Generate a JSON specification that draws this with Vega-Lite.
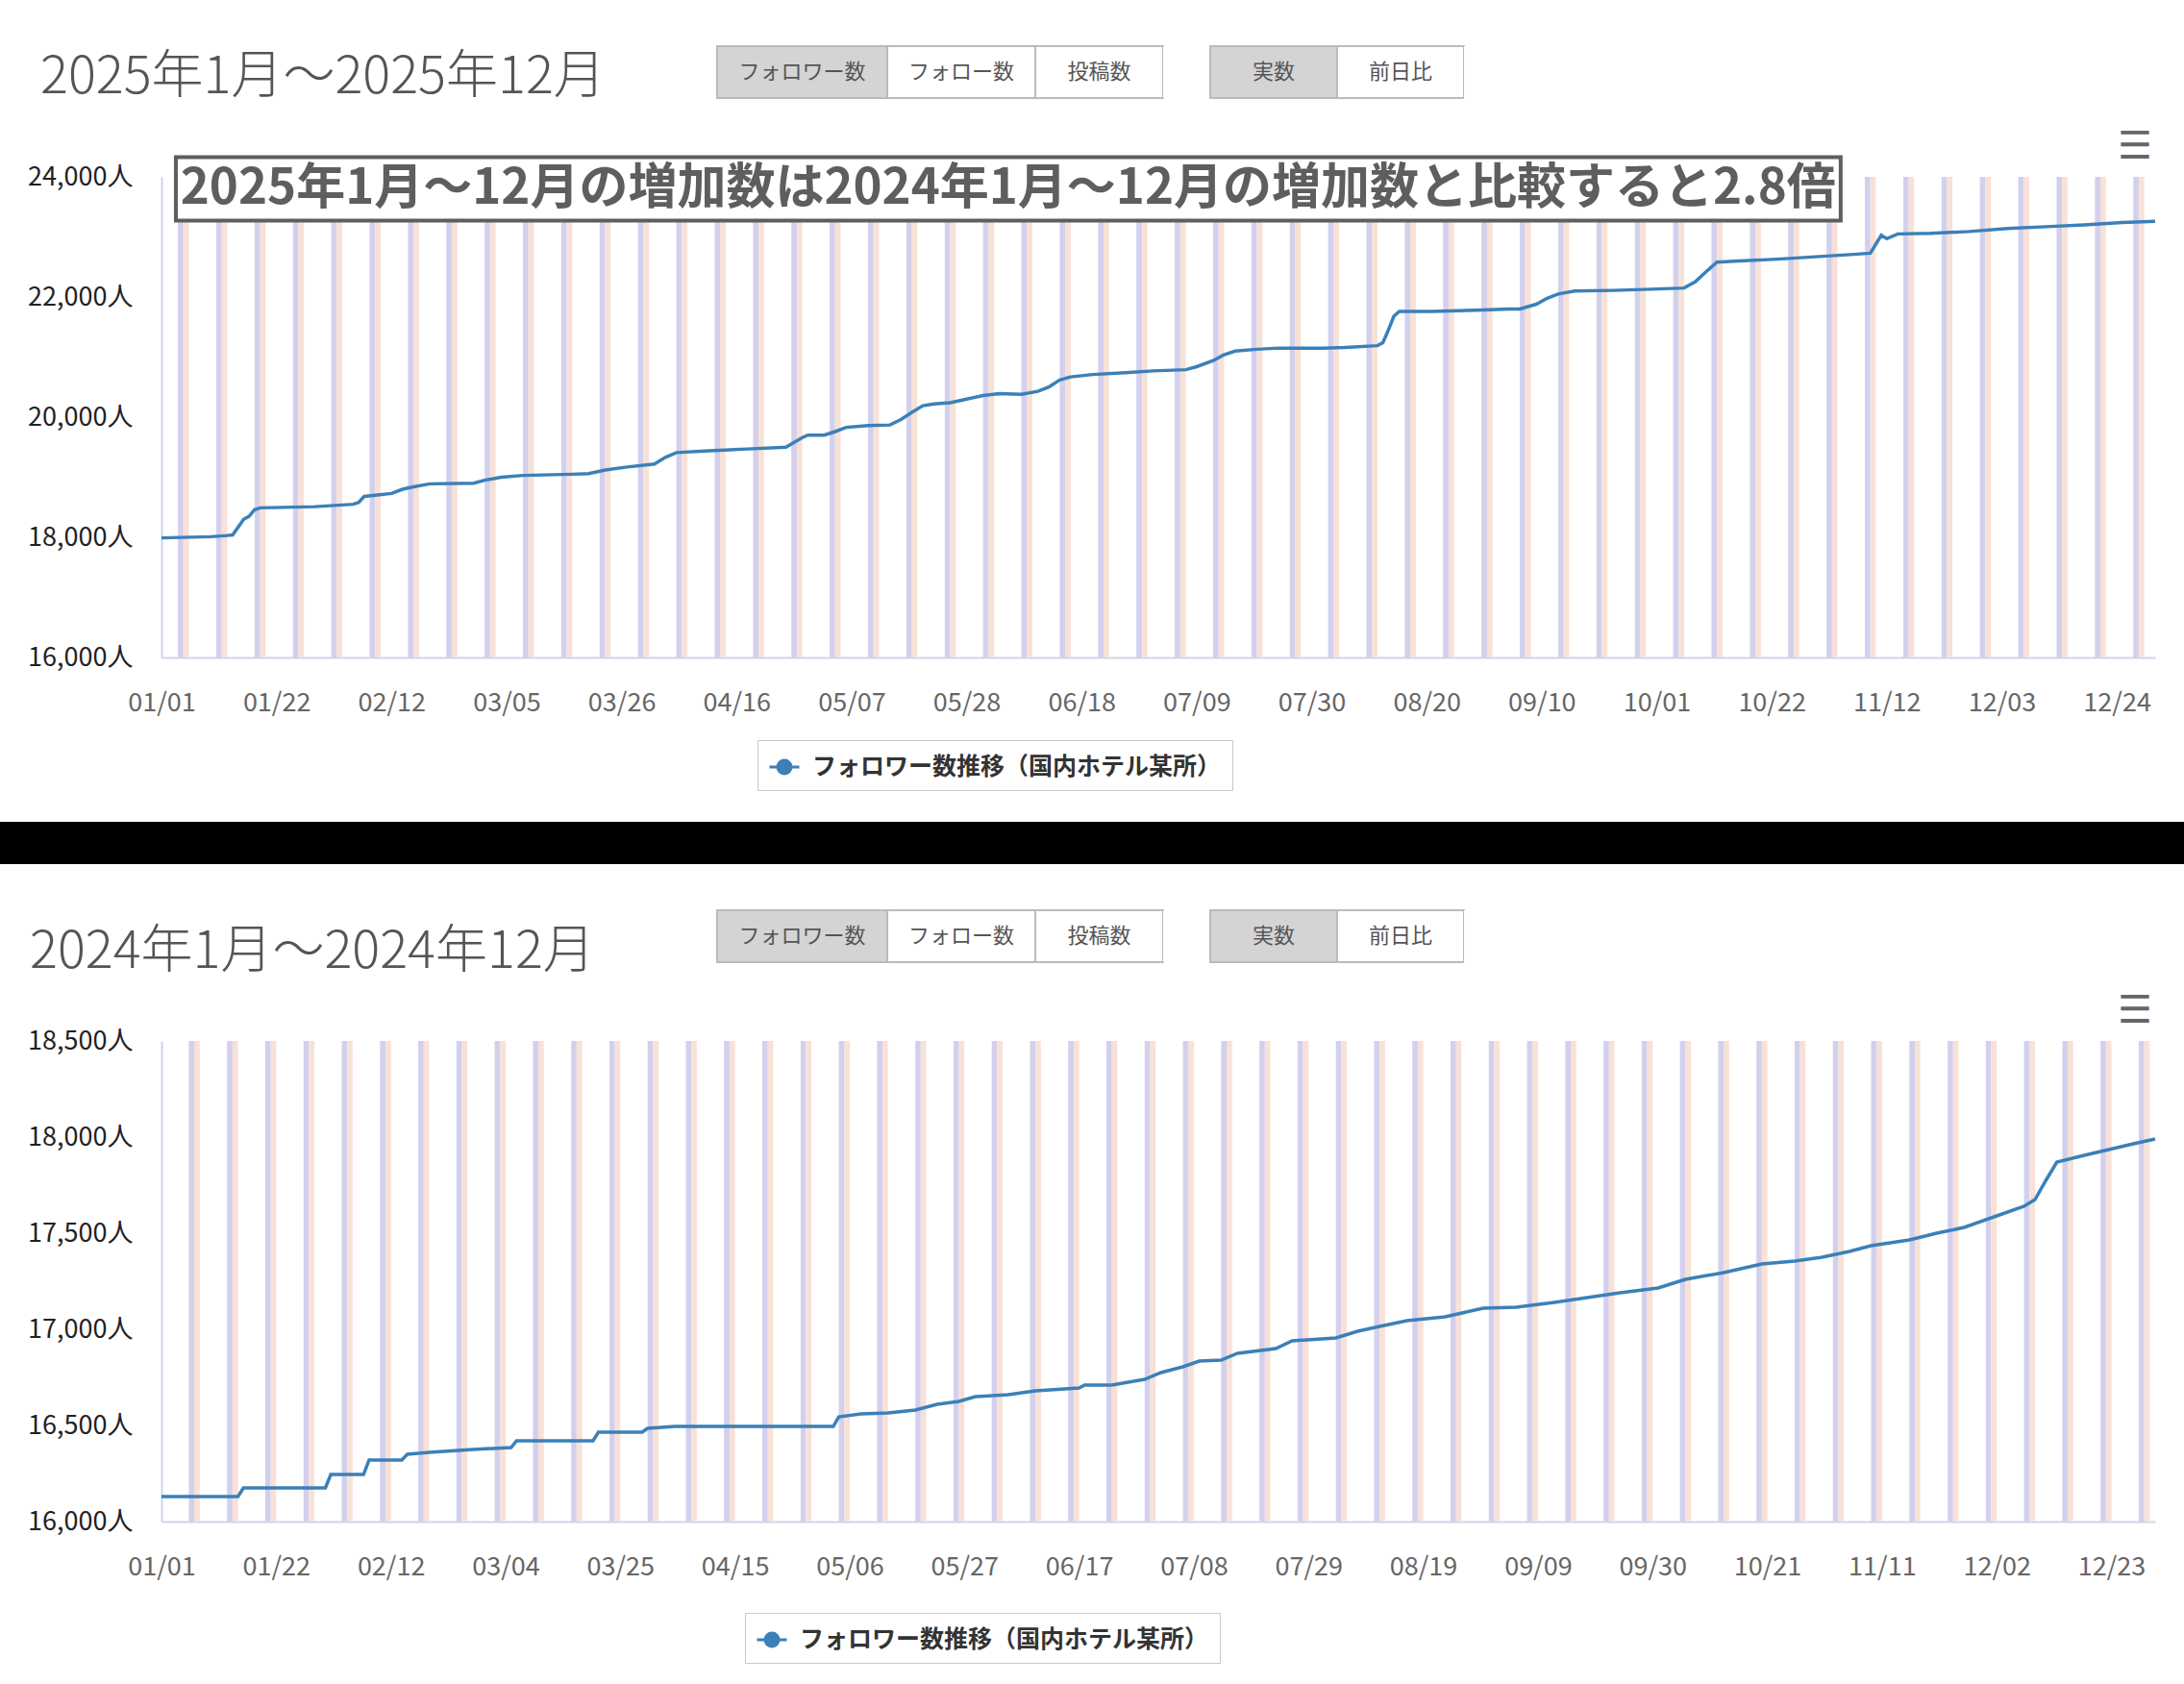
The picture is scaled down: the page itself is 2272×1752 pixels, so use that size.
{
  "$schema": "https://vega.github.io/schema/vega-lite/v6.json",
  "background": "white",
  "padding": {"left": 0, "top": 47, "right": 0, "bottom": 0},
  "spacing": 0,
  "resolve": {"scale": {"color": "independent"}},
  "config": {
    "font": "Noto Sans CJK JP",
    "view": {"stroke": null},
    "axisY": {"labelFontSize": 27, "labelColor": "#222", "labelPadding": 30, "ticks": false, "tickSize": 0, "gridColor": "#e6e6e6", "gridWidth": 1.5, "domainColor": "#ccd6eb", "domainWidth": 2},
    "axisX": {"labelFontSize": 27, "labelColor": "#666", "labelPadding": 34, "ticks": false, "tickSize": 0, "grid": false, "domainColor": "#ccd6eb", "domainWidth": 2, "labelFlush": false, "labelOverlap": false, "format": "%m/%d"},
    "legend": {"orient": "none", "title": null, "strokeColor": "#c8c8c8", "fillColor": "white", "padding": 11, "labelFontSize": 25, "labelFontWeight": "bold", "labelColor": "#333", "labelOffset": 12, "labelLimit": 1000, "symbolSize": 961, "symbolStrokeWidth": 3, "symbolType": "M-1,0L1,0M-0.45,0a0.45,0.45 0 1,0 0.9,0a0.45,0.45 0 1,0 -0.9,0"}
  },
  "datasets": {
    "s25": [
      {"d":"2025/01/01","v":17990},{"d":"2025/01/10","v":18010},{"d":"2025/01/13","v":18030},{"d":"2025/01/14","v":18040},
      {"d":"2025/01/16","v":18300},{"d":"2025/01/17","v":18350},{"d":"2025/01/18","v":18460},{"d":"2025/01/19","v":18490},
      {"d":"2025/01/29","v":18510},{"d":"2025/02/05","v":18550},{"d":"2025/02/06","v":18580},{"d":"2025/02/07","v":18680},
      {"d":"2025/02/09","v":18700},{"d":"2025/02/12","v":18730},{"d":"2025/02/14","v":18800},{"d":"2025/02/16","v":18840},
      {"d":"2025/02/19","v":18890},{"d":"2025/02/27","v":18900},{"d":"2025/03/01","v":18950},{"d":"2025/03/04","v":19000},
      {"d":"2025/03/08","v":19030},{"d":"2025/03/17","v":19050},{"d":"2025/03/20","v":19060},{"d":"2025/03/23","v":19120},
      {"d":"2025/03/27","v":19170},{"d":"2025/04/01","v":19220},{"d":"2025/04/03","v":19330},{"d":"2025/04/05","v":19410},
      {"d":"2025/04/11","v":19440},{"d":"2025/04/18","v":19470},{"d":"2025/04/25","v":19500},{"d":"2025/04/28","v":19660},
      {"d":"2025/04/29","v":19700},{"d":"2025/05/02","v":19700},{"d":"2025/05/04","v":19760},{"d":"2025/05/06","v":19830},
      {"d":"2025/05/10","v":19860},{"d":"2025/05/14","v":19870},{"d":"2025/05/16","v":19960},{"d":"2025/05/18","v":20080},
      {"d":"2025/05/20","v":20190},{"d":"2025/05/22","v":20220},{"d":"2025/05/25","v":20240},{"d":"2025/05/28","v":20300},
      {"d":"2025/05/31","v":20360},{"d":"2025/06/03","v":20390},{"d":"2025/06/07","v":20380},{"d":"2025/06/10","v":20430},
      {"d":"2025/06/12","v":20500},{"d":"2025/06/14","v":20620},{"d":"2025/06/16","v":20670},{"d":"2025/06/20","v":20710},
      {"d":"2025/06/26","v":20740},{"d":"2025/07/01","v":20770},{"d":"2025/07/07","v":20790},{"d":"2025/07/09","v":20840},
      {"d":"2025/07/12","v":20940},{"d":"2025/07/14","v":21040},{"d":"2025/07/16","v":21100},{"d":"2025/07/20","v":21130},
      {"d":"2025/07/24","v":21150},{"d":"2025/08/01","v":21150},{"d":"2025/08/05","v":21160},{"d":"2025/08/11","v":21190},
      {"d":"2025/08/12","v":21240},{"d":"2025/08/13","v":21450},{"d":"2025/08/14","v":21680},{"d":"2025/08/15","v":21760},
      {"d":"2025/08/21","v":21760},{"d":"2025/08/29","v":21780},{"d":"2025/09/04","v":21800},{"d":"2025/09/06","v":21800},
      {"d":"2025/09/09","v":21880},{"d":"2025/09/11","v":21980},{"d":"2025/09/13","v":22050},{"d":"2025/09/16","v":22100},
      {"d":"2025/09/23","v":22110},{"d":"2025/09/30","v":22130},{"d":"2025/10/06","v":22150},{"d":"2025/10/08","v":22250},
      {"d":"2025/10/10","v":22420},{"d":"2025/10/12","v":22580},{"d":"2025/10/16","v":22600},{"d":"2025/10/23","v":22630},
      {"d":"2025/10/30","v":22670},{"d":"2025/11/06","v":22710},{"d":"2025/11/09","v":22730},{"d":"2025/11/10","v":22880},
      {"d":"2025/11/11","v":23030},{"d":"2025/11/12","v":22970},{"d":"2025/11/14","v":23050},{"d":"2025/11/20","v":23060},
      {"d":"2025/11/27","v":23090},{"d":"2025/12/04","v":23140},{"d":"2025/12/11","v":23170},{"d":"2025/12/18","v":23200},
      {"d":"2025/12/25","v":23240},{"d":"2025/12/31","v":23260}
    ],
    "s24": [
      {"d":"2024/01/01","v":16130},{"d":"2024/01/15","v":16130},{"d":"2024/01/16","v":16175},{"d":"2024/01/31","v":16175},
      {"d":"2024/02/01","v":16245},{"d":"2024/02/07","v":16245},{"d":"2024/02/08","v":16320},{"d":"2024/02/14","v":16320},
      {"d":"2024/02/15","v":16350},{"d":"2024/02/19","v":16360},{"d":"2024/02/27","v":16375},{"d":"2024/03/05","v":16385},
      {"d":"2024/03/06","v":16420},{"d":"2024/03/20","v":16420},{"d":"2024/03/21","v":16465},{"d":"2024/03/29","v":16465},
      {"d":"2024/03/30","v":16485},{"d":"2024/04/04","v":16495},{"d":"2024/05/03","v":16495},{"d":"2024/05/04","v":16545},
      {"d":"2024/05/08","v":16560},{"d":"2024/05/13","v":16565},{"d":"2024/05/18","v":16580},{"d":"2024/05/22","v":16610},
      {"d":"2024/05/26","v":16625},{"d":"2024/05/29","v":16650},{"d":"2024/06/04","v":16660},{"d":"2024/06/09","v":16680},
      {"d":"2024/06/17","v":16695},{"d":"2024/06/18","v":16710},{"d":"2024/06/23","v":16710},{"d":"2024/06/29","v":16740},
      {"d":"2024/07/02","v":16775},{"d":"2024/07/06","v":16805},{"d":"2024/07/09","v":16835},{"d":"2024/07/13","v":16840},
      {"d":"2024/07/16","v":16875},{"d":"2024/07/23","v":16900},{"d":"2024/07/26","v":16940},{"d":"2024/08/03","v":16955},
      {"d":"2024/08/07","v":16990},{"d":"2024/08/11","v":17015},{"d":"2024/08/16","v":17045},{"d":"2024/08/23","v":17065},
      {"d":"2024/08/30","v":17110},{"d":"2024/09/05","v":17115},{"d":"2024/09/12","v":17140},{"d":"2024/09/18","v":17165},
      {"d":"2024/09/24","v":17190},{"d":"2024/10/01","v":17215},{"d":"2024/10/06","v":17260},{"d":"2024/10/13","v":17295},
      {"d":"2024/10/20","v":17340},{"d":"2024/10/26","v":17355},{"d":"2024/10/31","v":17375},{"d":"2024/11/05","v":17405},
      {"d":"2024/11/09","v":17435},{"d":"2024/11/16","v":17465},{"d":"2024/11/21","v":17500},{"d":"2024/11/26","v":17530},
      {"d":"2024/12/01","v":17580},{"d":"2024/12/07","v":17640},{"d":"2024/12/09","v":17675},{"d":"2024/12/11","v":17775},
      {"d":"2024/12/13","v":17870},{"d":"2024/12/18","v":17905},{"d":"2024/12/21","v":17925},{"d":"2024/12/27","v":17965},
      {"d":"2024/12/31","v":17990}
    ],
    "w25": [
      {"s":"2025/01/04","u":"2025/01/05","m":"2025/01/06"},{"s":"2025/01/11","u":"2025/01/12","m":"2025/01/13"},
      {"s":"2025/01/18","u":"2025/01/19","m":"2025/01/20"},{"s":"2025/01/25","u":"2025/01/26","m":"2025/01/27"},
      {"s":"2025/02/01","u":"2025/02/02","m":"2025/02/03"},{"s":"2025/02/08","u":"2025/02/09","m":"2025/02/10"},
      {"s":"2025/02/15","u":"2025/02/16","m":"2025/02/17"},{"s":"2025/02/22","u":"2025/02/23","m":"2025/02/24"},
      {"s":"2025/03/01","u":"2025/03/02","m":"2025/03/03"},{"s":"2025/03/08","u":"2025/03/09","m":"2025/03/10"},
      {"s":"2025/03/15","u":"2025/03/16","m":"2025/03/17"},{"s":"2025/03/22","u":"2025/03/23","m":"2025/03/24"},
      {"s":"2025/03/29","u":"2025/03/30","m":"2025/03/31"},{"s":"2025/04/05","u":"2025/04/06","m":"2025/04/07"},
      {"s":"2025/04/12","u":"2025/04/13","m":"2025/04/14"},{"s":"2025/04/19","u":"2025/04/20","m":"2025/04/21"},
      {"s":"2025/04/26","u":"2025/04/27","m":"2025/04/28"},{"s":"2025/05/03","u":"2025/05/04","m":"2025/05/05"},
      {"s":"2025/05/10","u":"2025/05/11","m":"2025/05/12"},{"s":"2025/05/17","u":"2025/05/18","m":"2025/05/19"},
      {"s":"2025/05/24","u":"2025/05/25","m":"2025/05/26"},{"s":"2025/05/31","u":"2025/06/01","m":"2025/06/02"},
      {"s":"2025/06/07","u":"2025/06/08","m":"2025/06/09"},{"s":"2025/06/14","u":"2025/06/15","m":"2025/06/16"},
      {"s":"2025/06/21","u":"2025/06/22","m":"2025/06/23"},{"s":"2025/06/28","u":"2025/06/29","m":"2025/06/30"},
      {"s":"2025/07/05","u":"2025/07/06","m":"2025/07/07"},{"s":"2025/07/12","u":"2025/07/13","m":"2025/07/14"},
      {"s":"2025/07/19","u":"2025/07/20","m":"2025/07/21"},{"s":"2025/07/26","u":"2025/07/27","m":"2025/07/28"},
      {"s":"2025/08/02","u":"2025/08/03","m":"2025/08/04"},{"s":"2025/08/09","u":"2025/08/10","m":"2025/08/11"},
      {"s":"2025/08/16","u":"2025/08/17","m":"2025/08/18"},{"s":"2025/08/23","u":"2025/08/24","m":"2025/08/25"},
      {"s":"2025/08/30","u":"2025/08/31","m":"2025/09/01"},{"s":"2025/09/06","u":"2025/09/07","m":"2025/09/08"},
      {"s":"2025/09/13","u":"2025/09/14","m":"2025/09/15"},{"s":"2025/09/20","u":"2025/09/21","m":"2025/09/22"},
      {"s":"2025/09/27","u":"2025/09/28","m":"2025/09/29"},{"s":"2025/10/04","u":"2025/10/05","m":"2025/10/06"},
      {"s":"2025/10/11","u":"2025/10/12","m":"2025/10/13"},{"s":"2025/10/18","u":"2025/10/19","m":"2025/10/20"},
      {"s":"2025/10/25","u":"2025/10/26","m":"2025/10/27"},{"s":"2025/11/01","u":"2025/11/02","m":"2025/11/03"},
      {"s":"2025/11/08","u":"2025/11/09","m":"2025/11/10"},{"s":"2025/11/15","u":"2025/11/16","m":"2025/11/17"},
      {"s":"2025/11/22","u":"2025/11/23","m":"2025/11/24"},{"s":"2025/11/29","u":"2025/11/30","m":"2025/12/01"},
      {"s":"2025/12/06","u":"2025/12/07","m":"2025/12/08"},{"s":"2025/12/13","u":"2025/12/14","m":"2025/12/15"},
      {"s":"2025/12/20","u":"2025/12/21","m":"2025/12/22"},{"s":"2025/12/27","u":"2025/12/28","m":"2025/12/29"}
    ],
    "w24": [
      {"s":"2024/01/06","u":"2024/01/07","m":"2024/01/08"},{"s":"2024/01/13","u":"2024/01/14","m":"2024/01/15"},
      {"s":"2024/01/20","u":"2024/01/21","m":"2024/01/22"},{"s":"2024/01/27","u":"2024/01/28","m":"2024/01/29"},
      {"s":"2024/02/03","u":"2024/02/04","m":"2024/02/05"},{"s":"2024/02/10","u":"2024/02/11","m":"2024/02/12"},
      {"s":"2024/02/17","u":"2024/02/18","m":"2024/02/19"},{"s":"2024/02/24","u":"2024/02/25","m":"2024/02/26"},
      {"s":"2024/03/02","u":"2024/03/03","m":"2024/03/04"},{"s":"2024/03/09","u":"2024/03/10","m":"2024/03/11"},
      {"s":"2024/03/16","u":"2024/03/17","m":"2024/03/18"},{"s":"2024/03/23","u":"2024/03/24","m":"2024/03/25"},
      {"s":"2024/03/30","u":"2024/03/31","m":"2024/04/01"},{"s":"2024/04/06","u":"2024/04/07","m":"2024/04/08"},
      {"s":"2024/04/13","u":"2024/04/14","m":"2024/04/15"},{"s":"2024/04/20","u":"2024/04/21","m":"2024/04/22"},
      {"s":"2024/04/27","u":"2024/04/28","m":"2024/04/29"},{"s":"2024/05/04","u":"2024/05/05","m":"2024/05/06"},
      {"s":"2024/05/11","u":"2024/05/12","m":"2024/05/13"},{"s":"2024/05/18","u":"2024/05/19","m":"2024/05/20"},
      {"s":"2024/05/25","u":"2024/05/26","m":"2024/05/27"},{"s":"2024/06/01","u":"2024/06/02","m":"2024/06/03"},
      {"s":"2024/06/08","u":"2024/06/09","m":"2024/06/10"},{"s":"2024/06/15","u":"2024/06/16","m":"2024/06/17"},
      {"s":"2024/06/22","u":"2024/06/23","m":"2024/06/24"},{"s":"2024/06/29","u":"2024/06/30","m":"2024/07/01"},
      {"s":"2024/07/06","u":"2024/07/07","m":"2024/07/08"},{"s":"2024/07/13","u":"2024/07/14","m":"2024/07/15"},
      {"s":"2024/07/20","u":"2024/07/21","m":"2024/07/22"},{"s":"2024/07/27","u":"2024/07/28","m":"2024/07/29"},
      {"s":"2024/08/03","u":"2024/08/04","m":"2024/08/05"},{"s":"2024/08/10","u":"2024/08/11","m":"2024/08/12"},
      {"s":"2024/08/17","u":"2024/08/18","m":"2024/08/19"},{"s":"2024/08/24","u":"2024/08/25","m":"2024/08/26"},
      {"s":"2024/08/31","u":"2024/09/01","m":"2024/09/02"},{"s":"2024/09/07","u":"2024/09/08","m":"2024/09/09"},
      {"s":"2024/09/14","u":"2024/09/15","m":"2024/09/16"},{"s":"2024/09/21","u":"2024/09/22","m":"2024/09/23"},
      {"s":"2024/09/28","u":"2024/09/29","m":"2024/09/30"},{"s":"2024/10/05","u":"2024/10/06","m":"2024/10/07"},
      {"s":"2024/10/12","u":"2024/10/13","m":"2024/10/14"},{"s":"2024/10/19","u":"2024/10/20","m":"2024/10/21"},
      {"s":"2024/10/26","u":"2024/10/27","m":"2024/10/28"},{"s":"2024/11/02","u":"2024/11/03","m":"2024/11/04"},
      {"s":"2024/11/09","u":"2024/11/10","m":"2024/11/11"},{"s":"2024/11/16","u":"2024/11/17","m":"2024/11/18"},
      {"s":"2024/11/23","u":"2024/11/24","m":"2024/11/25"},{"s":"2024/11/30","u":"2024/12/01","m":"2024/12/02"},
      {"s":"2024/12/07","u":"2024/12/08","m":"2024/12/09"},{"s":"2024/12/14","u":"2024/12/15","m":"2024/12/16"},
      {"s":"2024/12/21","u":"2024/12/22","m":"2024/12/23"},{"s":"2024/12/28","u":"2024/12/29","m":"2024/12/30"}
    ]
  },
  "vconcat": [
    {
      "hconcat": [
        {"width": 746, "height": 54, "data": {"values": [{"t": "2025年1月～2025年12月"}]},
         "mark": {"type": "text", "align": "left", "baseline": "middle", "fontSize": 54, "fontWeight": 300, "color": "#555", "dx": 42, "dy": 6},
         "encoding": {"x": {"field": "t", "type": "nominal", "axis": null, "scale": {"type": "point", "padding": 0, "align": 0}}, "text": {"field": "t"}}},
        {"width": 177, "height": 54, "view": {"fill": "#d4d4d4", "stroke": "#bbbbbb", "strokeWidth": 2}, "data": {"values": [{"b": "フォロワー数"}]},
         "mark": {"type": "text", "fontSize": 22, "color": "#555"}, "encoding": {"text": {"field": "b"}}},
        {"width": 154, "height": 54, "view": {"fill": "white", "stroke": "#bbbbbb", "strokeWidth": 2}, "data": {"values": [{"b": "フォロー数"}]},
         "mark": {"type": "text", "fontSize": 22, "color": "#555"}, "encoding": {"text": {"field": "b"}}},
        {"width": 133, "height": 54, "view": {"fill": "white", "stroke": "#bbbbbb", "strokeWidth": 2}, "data": {"values": [{"b": "投稿数"}]},
         "mark": {"type": "text", "fontSize": 22, "color": "#555"}, "encoding": {"text": {"field": "b"}}},
        {"width": 49, "height": 54, "view": {"fill": "white"}, "data": {"values": []}, "mark": "text"},
        {"width": 132, "height": 54, "view": {"fill": "#d4d4d4", "stroke": "#bbbbbb", "strokeWidth": 2}, "data": {"values": [{"b": "実数"}]},
         "mark": {"type": "text", "fontSize": 22, "color": "#555"}, "encoding": {"text": {"field": "b"}}},
        {"width": 132, "height": 54, "view": {"fill": "white", "stroke": "#bbbbbb", "strokeWidth": 2}, "data": {"values": [{"b": "前日比"}]},
         "mark": {"type": "text", "fontSize": 22, "color": "#555"}, "encoding": {"text": {"field": "b"}}},
        {"width": 749, "height": 84, "view": {"fill": "white"}, "data": {"values": []}, "mark": "text"}
      ],
      "bounds": "flush",
      "spacing": 0
    },
    {
      "resolve": {"scale": {"color": "independent"}},
      "bounds": "flush",
      "spacing": 0,
      "hconcat": [
        {"width": 168, "height": 670.5, "view": {"fill": "white"}, "data": {"values": []}, "mark": "text"},
        {
          "width": 2074,
          "height": 500,
          "layer": [
            {"data": {"name": "w25"}, "mark": {"type": "rect", "color": "#d3d0ee"},
             "encoding": {
               "x": {"field": "s", "type": "temporal", "title": null,
                     "scale": {"domain": [{"year": 2025, "month": 1, "date": 1}, {"year": 2025, "month": 12, "date": 31}]},
                     "axis": {"values": [
                       {"year": 2025, "month": 1, "date": 1}, {"year": 2025, "month": 1, "date": 22}, {"year": 2025, "month": 2, "date": 12},
                       {"year": 2025, "month": 3, "date": 5}, {"year": 2025, "month": 3, "date": 26}, {"year": 2025, "month": 4, "date": 16},
                       {"year": 2025, "month": 5, "date": 7}, {"year": 2025, "month": 5, "date": 28}, {"year": 2025, "month": 6, "date": 18},
                       {"year": 2025, "month": 7, "date": 9}, {"year": 2025, "month": 7, "date": 30}, {"year": 2025, "month": 8, "date": 20},
                       {"year": 2025, "month": 9, "date": 10}, {"year": 2025, "month": 10, "date": 1}, {"year": 2025, "month": 10, "date": 22},
                       {"year": 2025, "month": 11, "date": 12}, {"year": 2025, "month": 12, "date": 3}, {"year": 2025, "month": 12, "date": 24}]}},
               "x2": {"field": "u"},
               "y": {"datum": 24000, "type": "quantitative", "title": null,
                     "scale": {"domain": [16000, 24000], "nice": false, "zero": false},
                     "axis": {"values": [16000, 18000, 20000, 22000, 24000], "format": ",d", "labelExpr": "datum.label + '人'"}},
               "y2": {"datum": 16000}}},
            {"data": {"name": "w25"}, "mark": {"type": "rect", "color": "#f8e1d6"},
             "encoding": {
               "x": {"field": "u", "type": "temporal", "title": null},
               "x2": {"field": "m"},
               "y": {"datum": 24000, "type": "quantitative", "title": null},
               "y2": {"datum": 16000}}},
            {"data": {"name": "s25"}, "mark": {"type": "line", "strokeWidth": 3.5},
             "encoding": {
               "x": {"field": "d", "type": "temporal", "title": null},
               "y": {"field": "v", "type": "quantitative", "title": null},
               "color": {"datum": "フォロワー数推移（国内ホテル某所）", "scale": {"range": ["#3b80b8"]},
                         "legend": {"legendX": 620, "legendY": 586, "encode": {"symbols": {"update": {"fill": {"value": "#3b80b8"}, "stroke": {"value": "#3b80b8"}}}}}}}},
            {"data": {"values": [{"note": "2025年1月～12月の増加数は2024年1月～12月の増加数と比較すると2.8倍"}]},
             "mark": {"type": "rect", "fill": "white", "stroke": "#5e5e5e", "strokeWidth": 4},
             "encoding": {
               "x": {"datum": {"year": 2025, "month": 1, "date": 3, "hours": 15}, "type": "temporal", "title": null},
               "x2": {"datum": {"year": 2025, "month": 11, "date": 3, "hours": 14}},
               "y": {"datum": 24328, "type": "quantitative", "title": null},
               "y2": {"datum": 23272}}},
            {"data": {"values": [{"note": "2025年1月～12月の増加数は2024年1月～12月の増加数と比較すると2.8倍"}]},
             "mark": {"type": "text", "fontSize": 51, "fontWeight": "bold", "color": "#5e5e5e", "align": "center", "baseline": "middle"},
             "encoding": {
               "x": {"datum": {"year": 2025, "month": 6, "date": 4, "hours": 14}, "type": "temporal", "title": null},
               "y": {"datum": 23800, "type": "quantitative", "title": null},
               "text": {"field": "note"}}},
            {"data": {"values": [{"h": "☰"}]},
             "mark": {"type": "text", "align": "right", "baseline": "middle", "fontSize": 40, "fontWeight": "bold", "font": "DejaVu Sans", "color": "#666", "dx": -3},
             "encoding": {
               "x": {"datum": {"year": 2025, "month": 12, "date": 31}, "type": "temporal", "title": null},
               "y": {"datum": 24504, "type": "quantitative", "title": null},
               "text": {"field": "h"}}}
          ]
        }
      ]
    },
    {"width": 2272, "height": 44, "view": {"fill": "#000000"}, "data": {"values": []}, "mark": "text"},
    {"width": 2272, "height": 47, "view": {"fill": "white"}, "data": {"values": []}, "mark": "text"},
    {
      "hconcat": [
        {"width": 746, "height": 54, "data": {"values": [{"t": "2024年1月～2024年12月"}]},
         "mark": {"type": "text", "align": "left", "baseline": "middle", "fontSize": 54, "fontWeight": 300, "color": "#555", "dx": 31, "dy": 17},
         "encoding": {"x": {"field": "t", "type": "nominal", "axis": null, "scale": {"type": "point", "padding": 0, "align": 0}}, "text": {"field": "t"}}},
        {"width": 177, "height": 54, "view": {"fill": "#d4d4d4", "stroke": "#bbbbbb", "strokeWidth": 2}, "data": {"values": [{"b": "フォロワー数"}]},
         "mark": {"type": "text", "fontSize": 22, "color": "#555"}, "encoding": {"text": {"field": "b"}}},
        {"width": 154, "height": 54, "view": {"fill": "white", "stroke": "#bbbbbb", "strokeWidth": 2}, "data": {"values": [{"b": "フォロー数"}]},
         "mark": {"type": "text", "fontSize": 22, "color": "#555"}, "encoding": {"text": {"field": "b"}}},
        {"width": 133, "height": 54, "view": {"fill": "white", "stroke": "#bbbbbb", "strokeWidth": 2}, "data": {"values": [{"b": "投稿数"}]},
         "mark": {"type": "text", "fontSize": 22, "color": "#555"}, "encoding": {"text": {"field": "b"}}},
        {"width": 49, "height": 54, "view": {"fill": "white"}, "data": {"values": []}, "mark": "text"},
        {"width": 132, "height": 54, "view": {"fill": "#d4d4d4", "stroke": "#bbbbbb", "strokeWidth": 2}, "data": {"values": [{"b": "実数"}]},
         "mark": {"type": "text", "fontSize": 22, "color": "#555"}, "encoding": {"text": {"field": "b"}}},
        {"width": 132, "height": 54, "view": {"fill": "white", "stroke": "#bbbbbb", "strokeWidth": 2}, "data": {"values": [{"b": "前日比"}]},
         "mark": {"type": "text", "fontSize": 22, "color": "#555"}, "encoding": {"text": {"field": "b"}}},
        {"width": 749, "height": 84, "view": {"fill": "white"}, "data": {"values": []}, "mark": "text"}
      ],
      "bounds": "flush",
      "spacing": 0
    },
    {
      "resolve": {"scale": {"color": "independent"}},
      "bounds": "flush",
      "spacing": 0,
      "hconcat": [
        {"width": 168, "height": 673, "view": {"fill": "white"}, "data": {"values": []}, "mark": "text"},
        {
          "width": 2074,
          "height": 500,
          "layer": [
            {"data": {"name": "w24"}, "mark": {"type": "rect", "color": "#d3d0ee"},
             "encoding": {
               "x": {"field": "s", "type": "temporal", "title": null,
                     "scale": {"domain": [{"year": 2024, "month": 1, "date": 1}, {"year": 2024, "month": 12, "date": 31}]},
                     "axis": {"values": [
                       {"year": 2024, "month": 1, "date": 1}, {"year": 2024, "month": 1, "date": 22}, {"year": 2024, "month": 2, "date": 12},
                       {"year": 2024, "month": 3, "date": 4}, {"year": 2024, "month": 3, "date": 25}, {"year": 2024, "month": 4, "date": 15},
                       {"year": 2024, "month": 5, "date": 6}, {"year": 2024, "month": 5, "date": 27}, {"year": 2024, "month": 6, "date": 17},
                       {"year": 2024, "month": 7, "date": 8}, {"year": 2024, "month": 7, "date": 29}, {"year": 2024, "month": 8, "date": 19},
                       {"year": 2024, "month": 9, "date": 9}, {"year": 2024, "month": 9, "date": 30}, {"year": 2024, "month": 10, "date": 21},
                       {"year": 2024, "month": 11, "date": 11}, {"year": 2024, "month": 12, "date": 2}, {"year": 2024, "month": 12, "date": 23}]}},
               "x2": {"field": "u"},
               "y": {"datum": 18500, "type": "quantitative", "title": null,
                     "scale": {"domain": [16000, 18500], "nice": false, "zero": false},
                     "axis": {"values": [16000, 16500, 17000, 17500, 18000, 18500], "format": ",d", "labelExpr": "datum.label + '人'"}},
               "y2": {"datum": 16000}}},
            {"data": {"name": "w24"}, "mark": {"type": "rect", "color": "#f8e1d6"},
             "encoding": {
               "x": {"field": "u", "type": "temporal", "title": null},
               "x2": {"field": "m"},
               "y": {"datum": 18500, "type": "quantitative", "title": null},
               "y2": {"datum": 16000}}},
            {"data": {"name": "s24"}, "mark": {"type": "line", "strokeWidth": 3.5},
             "encoding": {
               "x": {"field": "d", "type": "temporal", "title": null},
               "y": {"field": "v", "type": "quantitative", "title": null},
               "color": {"datum": "フォロワー数推移（国内ホテル某所）", "scale": {"range": ["#3b80b8"]},
                         "legend": {"legendX": 607, "legendY": 595, "encode": {"symbols": {"update": {"fill": {"value": "#3b80b8"}, "stroke": {"value": "#3b80b8"}}}}}}}},
            {"data": {"values": [{"h": "☰"}]},
             "mark": {"type": "text", "align": "right", "baseline": "middle", "fontSize": 40, "fontWeight": "bold", "font": "DejaVu Sans", "color": "#666", "dx": -3},
             "encoding": {
               "x": {"datum": {"year": 2024, "month": 12, "date": 31}, "type": "temporal", "title": null},
               "y": {"datum": 18657, "type": "quantitative", "title": null},
               "text": {"field": "h"}}}
          ]
        }
      ]
    }
  ]
}
